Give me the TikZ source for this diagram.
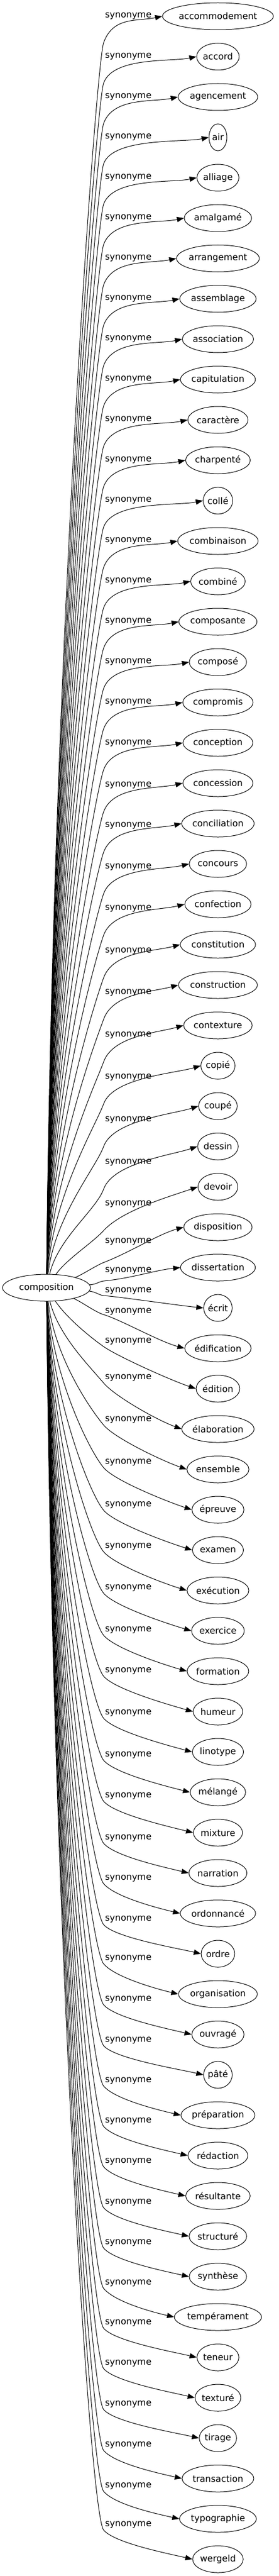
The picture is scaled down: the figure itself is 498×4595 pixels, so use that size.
\documentclass[tikz,border=0pt,12pt]{standalone}
\usepackage{fontspec}
\setmainfont{DejaVu Sans}
\usetikzlibrary{shapes.geometric,arrows.meta}
\newlength\motlen

\begin{document}
\begin{tikzpicture}[x=0.75pt,y=-0.75pt,
    mot/.style={draw, ellipse, line width=0.75pt, inner sep=0pt, minimum height=36pt},
    etiq/.style={inner sep=0pt},
    lien/.style={line width=0.75pt, -{Triangle[length=9.5pt,width=7pt]}}]
  \useasboundingbox (0,0) rectangle (498,4595);

  \node[mot, minimum width=117.75pt] (comp) at (83,2297) {composition};

  \foreach \i/\nom/\ye/\dec in {1/accommodement/28/48, 2/accord/100/48, 3/agencement/172/48, 4/air/244/48,
      5/alliage/316/48, 6/amalgamé/388/48, 7/arrangement/460/48, 8/assemblage/532/48, 9/association/604/48,
      10/capitulation/676/48, 11/caractère/748/48, 12/charpenté/820/48, 13/collé/892/48, 14/combinaison/964/48,
      15/combiné/1036/48, 16/composante/1108/48, 17/composé/1180/48, 18/compromis/1252/48, 19/conception/1325/48,
      20/concession/1400/48, 21/conciliation/1472/48, 22/concours/1546/48, 23/confection/1620/48,
      24/constitution/1696/48, 25/construction/1770/48, 26/contexture/1846/48, 27/copié/1921/48, 28/coupé/1997/48,
      29/dessin/2073/48, 30/devoir/2147/48, 31/disposition/2214/38, 32/dissertation/2266/19, 33/écrit/2302/9,
      34/édification/2339/6, 35/édition/2392/10, 36/élaboration/2457/10, 37/ensemble/2532/10, 38/épreuve/2608/10,
      39/examen/2684/10, 40/exécution/2758/10, 41/exercice/2832/10, 42/formation/2907/10, 43/humeur/2980/10,
      44/linotype/3055/10, 45/mélangé/3130/10, 46/mixture/3203/10, 47/narration/3278/10, 48/ordonnancé/3350/10,
      49/ordre/3423/10, 50/organisation/3493/10, 51/ouvragé/3566/10, 52/pâté/3639/10, 53/préparation/3711/10,
      54/rédaction/3783/10, 55/résultante/3855/10, 56/structuré/3928/10, 57/synthèse/4000/10,
      58/tempérament/4072/10, 59/teneur/4143/10, 60/texturé/4215/10, 61/tirage/4288/10, 62/transaction/4361/10,
      63/typographie/4434/10, 64/wergeld/4503/10}{
    \pgfmathsetmacro\yt{29+72*(\i-1)}
    \settowidth\motlen{\nom}
    \pgfmathsetmacro\mw{1.227*\motlen+24}
    \node[mot, minimum width=\mw pt] (s\i) at (389,\yt) {\nom};
    \node[etiq] (l\i) at (229,\ye+1) {synonyme};
    % bend under the label
    \pgfmathsetmacro\by{\ye+\dec}
    \pgfmathsetmacro\dy{\by-2297}
    \pgfmathsetmacro\ady{abs(\dy)}
    \pgfmathsetmacro\px{83+102*(0.1+0.9*exp(-min(\ady,800)/80))}
    \pgfmathsetmacro\py{2297+0.5*\dy}
    \pgfmathsetmacro\th{(\dy<0 ? -70 : 50)*min(1,\ady/150)}
    \pgfmathsetmacro\ux{cos(\th)}
    \pgfmathsetmacro\uy{sin(\th)}
    \pgfmathsetmacro\bb{max(8,min(40,0.3*\ady))}
    \pgfmathsetmacro\cc{\dy<0 ? 50 : 30}
    \coordinate (k\i) at (185,\by);
    \draw[lien] (comp) .. controls (\px,\py) and ({185-\bb*\ux},{\by-\bb*\uy}) .. (k\i)
      .. controls +({\cc*\ux},{\cc*\uy}) and +(-45,{-0.2*(\yt-\by)}) .. (s\i.west);
  }
\end{tikzpicture}
\end{document}
